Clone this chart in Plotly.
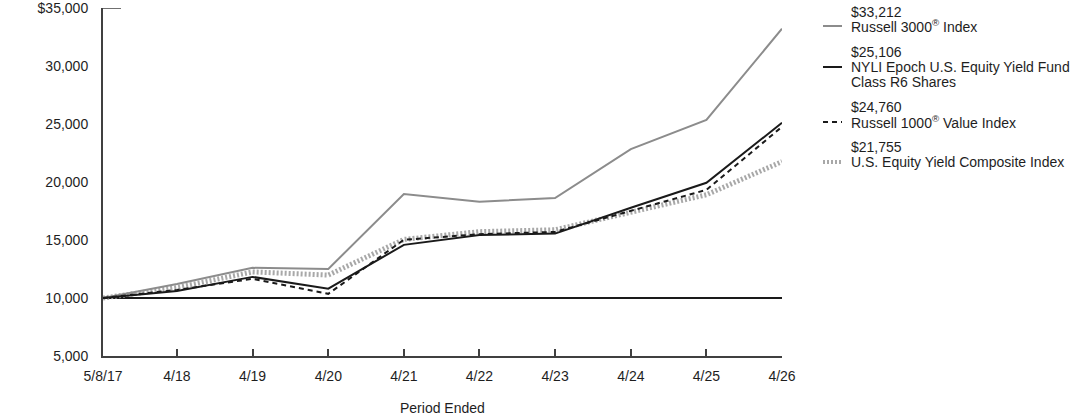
import plotly.graph_objects as go

dates = ["2017-05-08", "2018-04-30", "2019-04-30", "2020-04-30", "2021-04-30",
         "2022-04-30", "2023-04-30", "2024-04-30", "2025-04-30", "2026-04-30"]
tick_labels = ["5/8/17", "4/18", "4/19", "4/20", "4/21", "4/22", "4/23", "4/24", "4/25", "4/26"]

russell3000 = [10000, 11200, 12600, 12500, 18970, 18300, 18620, 22840, 25350, 33212]
fund = [10000, 10600, 11820, 10800, 14580, 15430, 15550, 17780, 19930, 25106]
russell1000v = [10000, 10700, 11650, 10360, 15020, 15500, 15700, 17500, 19320, 24760]
composite = [10000, 10900, 12250, 11980, 15050, 15720, 15880, 17380, 18900, 21755]

legend_values = ["$33,212", "$25,106", "$24,760", "$21,755"]
legend_names = [["Russell 3000<sup>®</sup> Index"],
                ["NYLI Epoch U.S. Equity Yield Fund", "Class R6 Shares"],
                ["Russell 1000<sup>®</sup> Value Index"],
                ["U.S. Equity Yield Composite Index"]]

y_ticks = [5000, 10000, 15000, 20000, 25000, 30000, 35000]
y_ticktext = ["5,000", "10,000", "15,000", "20,000", "25,000", "30,000", "$35,000"]

FONT = "Liberation Sans, Arial, sans-serif"
FS = 14
TXT = "#1e1e1e"
styles = [
    dict(color="#8c8c8c", width=2, dash="solid"),
    dict(color="#1a1a1a", width=2, dash="solid"),
    dict(color="#1a1a1a", width=2, dash="5px,4px"),
    dict(color="#a8a8a8", width=5, dash="2px,2px"),
]

# plot area in pixels
L, R, T, B = 103, 782, 8, 356
PW, PH = R - L, B - T


def px(x):
    return (x - L) / PW


def py(y):
    return (B - y) / PH


fig = go.Figure()
# draw order: composite, russell 3000, russell 1000 value, fund
fig.add_trace(go.Scatter(x=dates, y=composite, mode="lines", line=styles[3], showlegend=False))
fig.add_trace(go.Scatter(x=dates, y=russell3000, mode="lines", line=styles[0], showlegend=False))
fig.add_trace(go.Scatter(x=dates, y=russell1000v, mode="lines", line=styles[2], showlegend=False))
fig.add_trace(go.Scatter(x=dates, y=fund, mode="lines", line=styles[1], showlegend=False))

# 10,000 reference line
fig.add_shape(type="line", xref="paper", x0=0, x1=1, yref="y", y0=10000, y1=10000,
              line=dict(color="#1a1a1a", width=2), layer="below")
# top tick at 35,000
fig.add_shape(type="line", xref="paper", x0=0, x1=px(121), yref="y", y0=35000, y1=35000,
              line=dict(color="#404040", width=1.5))

# custom legend: (value text y, [name line ys], sample line y)
leg_rows = [(12, [26], 26), (52, [67, 82], 67), (107, [122], 122), (147, [162], 162)]
for i, (vy, name_ys, ly) in enumerate(leg_rows):
    s = styles[i]
    fig.add_shape(type="line", xref="paper", yref="paper",
                  x0=px(823), x1=px(842), y0=py(ly), y1=py(ly),
                  line=dict(color=s["color"], width=s["width"] if i != 3 else 4, dash=s["dash"]))
    fig.add_annotation(xref="paper", yref="paper", x=px(849), y=py(vy),
                       text=legend_values[i], showarrow=False, xanchor="left", yanchor="middle",
                       font=dict(family=FONT, size=FS, color=TXT))
    for t, ny in zip(legend_names[i], name_ys):
        fig.add_annotation(xref="paper", yref="paper", x=px(849), y=py(ny),
                           text=t, showarrow=False, xanchor="left", yanchor="middle",
                           font=dict(family=FONT, size=FS, color=TXT))

# x axis title
fig.add_annotation(xref="paper", yref="paper", x=0.5, y=py(408), text="Period Ended",
                   showarrow=False, xanchor="center", yanchor="middle",
                   font=dict(family=FONT, size=FS, color=TXT))

fig.update_layout(
    width=1092, height=417,
    margin=dict(l=L, r=1092 - R, t=T, b=417 - B),
    paper_bgcolor="white", plot_bgcolor="white",
    font=dict(family=FONT, size=FS, color=TXT),
    showlegend=False,
    xaxis=dict(
        type="date", range=["2017-05-08", "2026-04-30"],
        tickvals=dates, ticktext=tick_labels,
        showgrid=False, zeroline=False, automargin=False,
        showline=True, linecolor="#404040", linewidth=2,
        ticks="inside", ticklen=7, tickcolor="#404040", tickwidth=1.5,
        ticklabelstandoff=6, ticklabeloverflow="allow",
        tickfont=dict(family=FONT, size=FS, color=TXT),
    ),
    yaxis=dict(
        range=[5000, 35000],
        tickvals=y_ticks, ticktext=y_ticktext,
        showgrid=False, zeroline=False, automargin=False,
        showline=True, linecolor="#404040", linewidth=2,
        ticks="", ticklabelstandoff=10, ticklabeloverflow="allow",
        tickfont=dict(family=FONT, size=FS, color=TXT),
    ),
)

fig.write_html("out.html")
